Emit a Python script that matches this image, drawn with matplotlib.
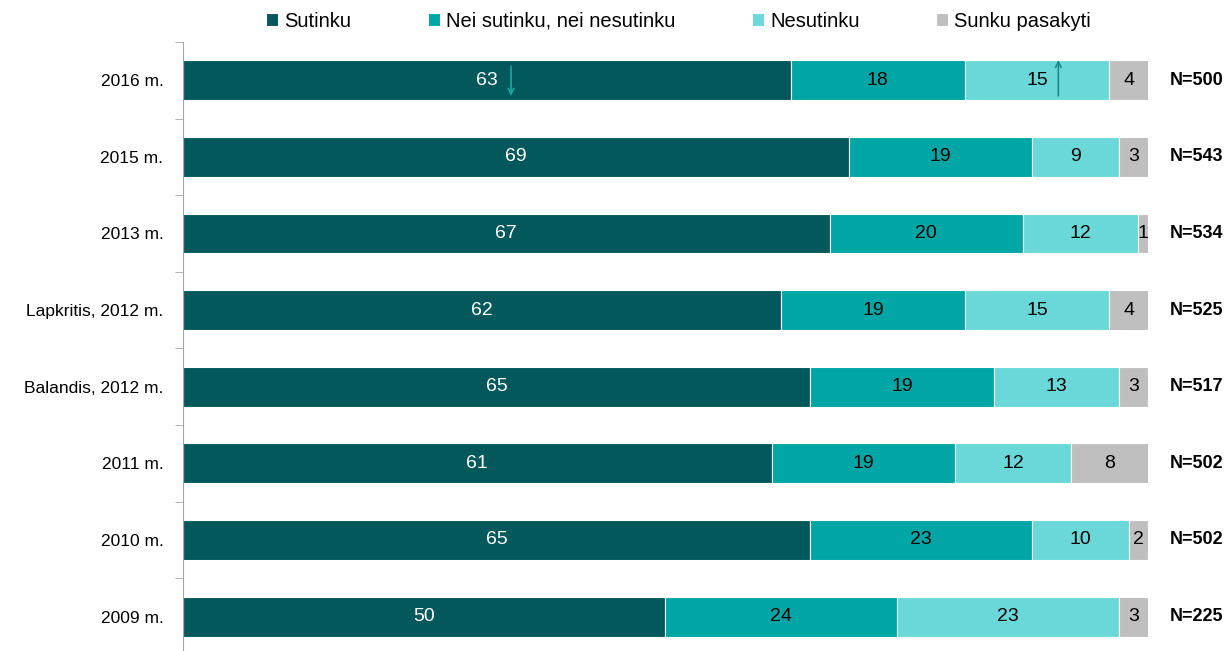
import matplotlib.pyplot as plt
import numpy as np

plt.rcParams['font.family'] = ['Liberation Sans', 'DejaVu Sans']

years = ["2016 m.", "2015 m.", "2013 m.", "Lapkritis, 2012 m.", "Balandis, 2012 m.",
         "2011 m.", "2010 m.", "2009 m."]
sutinku = [63, 69, 67, 62, 65, 61, 65, 50]
nei = [18, 19, 20, 19, 19, 19, 23, 24]
nesutinku = [15, 9, 12, 15, 13, 12, 10, 23]
sunku = [4, 3, 1, 4, 3, 8, 2, 3]
n_labels = ["N=500", "N=543", "N=534", "N=525", "N=517", "N=502", "N=502", "N=225"]

series = [("Sutinku", sutinku, "#02585b", "white"),
          ("Nei sutinku, nei nesutinku", nei, "#00a6a6", "black"),
          ("Nesutinku", nesutinku, "#6ad8d9", "black"),
          ("Sunku pasakyti", sunku, "#bfbfbf", "black")]

fig = plt.figure(figsize=(12.27, 6.51), dpi=100)
ax = fig.add_axes([0.149, -0.006, 0.7867, 0.9416])

y = np.arange(len(years))[::-1]
left = np.zeros(len(years))
for name, vals, col, tcol in series:
    vals = np.array(vals, dtype=float)
    ax.barh(y, vals, left=left, height=0.52, color=col, edgecolor="white",
            linewidth=0.8, label=name)
    for yi, l, v in zip(y, left, vals):
        ax.text(l + v / 2, yi, str(int(v)), ha="center", va="center",
                color=tcol, fontsize=14)
    left += vals

for yi, n in zip(y, n_labels):
    ax.text(105.0, yi, n, ha="center", va="center", fontsize=13,
            fontweight="bold")

# change arrows on the 2016 bar
ax.annotate("", xy=(34.0, 6.76), xytext=(34.0, 7.22),
            arrowprops=dict(arrowstyle="->", color="#1aa7a0", lw=1.2))
ax.annotate("", xy=(90.7, 7.3), xytext=(90.7, 6.76),
            arrowprops=dict(arrowstyle="->", color="#1a8a88", lw=1.2))

ax.set_xlim(0, 100)
ax.set_ylim(-0.5, 7.5)
ax.set_yticks(y)
ax.set_yticklabels(years, fontsize=12.5)
ax.set_yticks(np.arange(-0.5, 8, 1), minor=True)
ax.tick_params(axis="y", which="major", length=0, pad=14)
ax.tick_params(axis="y", which="minor", length=6, color="#a6a6a6")
ax.set_xticks([])
for s in ["top", "right", "bottom"]:
    ax.spines[s].set_visible(False)
ax.spines["left"].set_color("#a6a6a6")

fig.legend(loc="upper center", bbox_to_anchor=(0.553, 1.01), ncol=4,
           frameon=False, fontsize=14.5, handlelength=0.6, handleheight=0.6,
           handletextpad=0.3, columnspacing=3.8)

fig.savefig("out.png", dpi=100)
